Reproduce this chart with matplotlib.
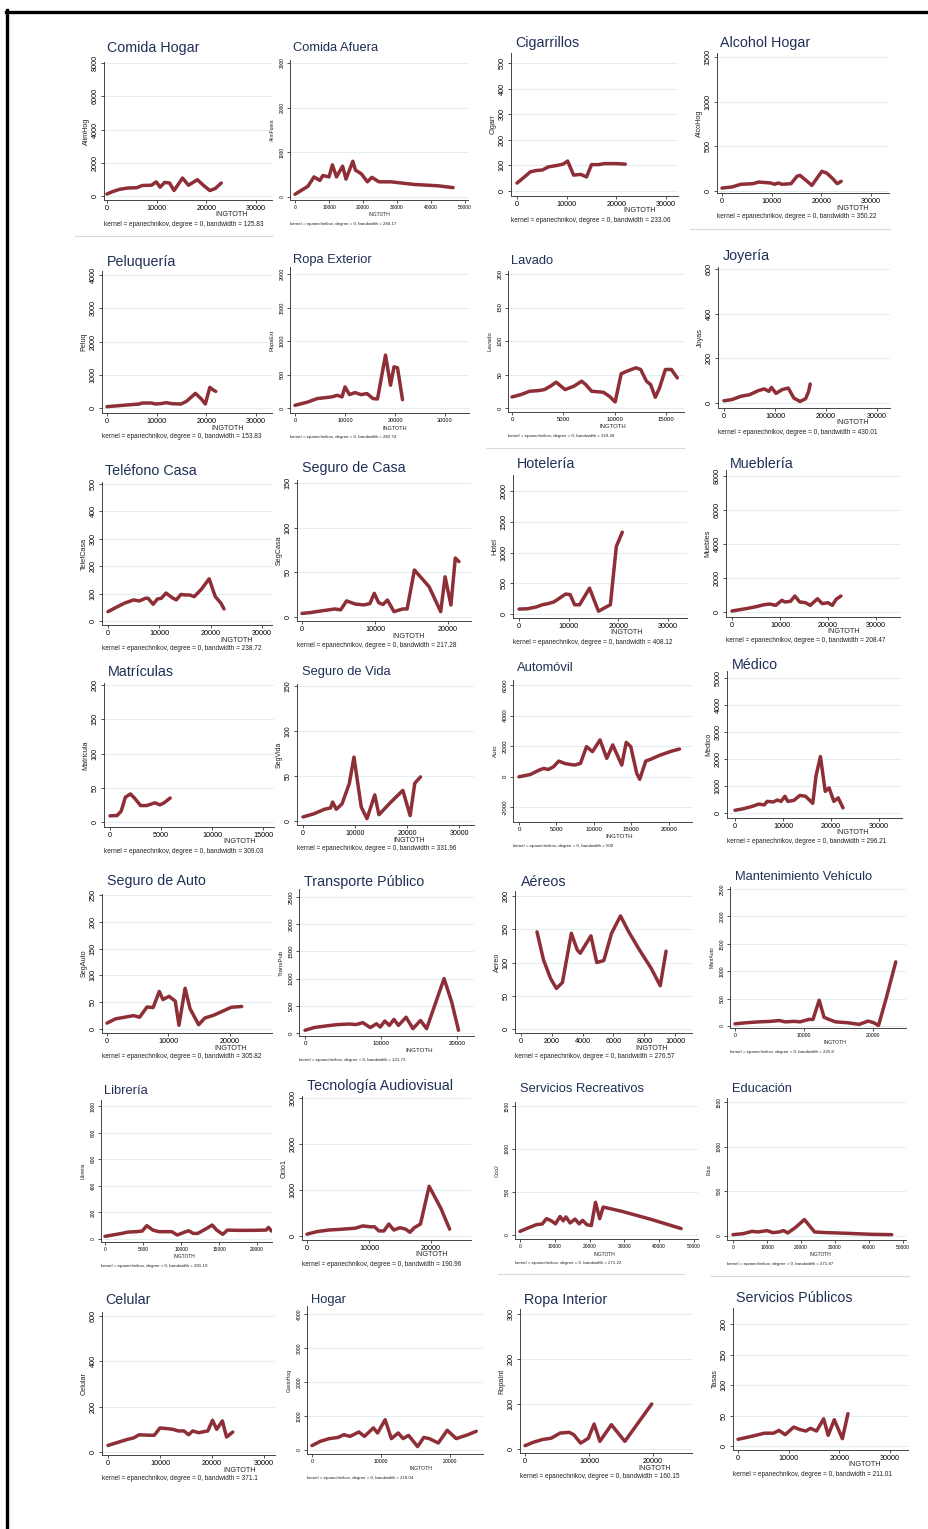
import matplotlib
matplotlib.use("Agg")
import matplotlib.pyplot as plt
from matplotlib.lines import Line2D

# ---- kernel regression curves (gasto vs INGTOTH) ----
alim_hog_x = [0, 1000, 2500, 4200, 6000, 7100, 9000, 9900, 10700, 11600, 12600, 13500, 15200, 16400, 18200, 19500, 20700, 21800, 23000]
alim_hog_y = [120, 250, 400, 480, 500, 630, 650, 850, 530, 820, 780, 330, 1080, 650, 980, 620, 330, 450, 780]

alim_fuera_x = [0, 3800, 5600, 7300, 8200, 10000, 11000, 12200, 14000, 15000, 17000, 17800, 19500, 21300, 22600, 24700, 28200, 35200, 42200, 46500]
alim_fuera_y = [60, 240, 450, 370, 480, 450, 720, 450, 690, 400, 800, 600, 520, 340, 440, 340, 340, 280, 250, 210]

cigarr_x = [0, 1500, 2700, 3900, 5100, 6300, 8100, 9300, 10200, 11400, 12800, 14000, 15000, 16400, 17600, 20000, 21800]
cigarr_y = [31, 55, 75, 80, 82, 94, 100, 105, 117, 62, 65, 55, 103, 103, 107, 107, 105]

alco_hog_x = [0, 2000, 3800, 6200, 7400, 9800, 10600, 11300, 12100, 13900, 15100, 15700, 16900, 18100, 20100, 21100, 22300, 23200, 24000]
alco_hog_y = [33, 45, 75, 82, 100, 90, 75, 90, 75, 82, 165, 175, 120, 63, 220, 200, 138, 82, 108]

peluq_x = [0, 2400, 4800, 6500, 7100, 8900, 9800, 10700, 11900, 13100, 14900, 16000, 17800, 19000, 19800, 20700, 21400, 21900]
peluq_y = [40, 70, 100, 120, 150, 150, 120, 130, 160, 130, 120, 200, 440, 270, 120, 620, 540, 500]

ropa_ext_x = [0, 2600, 4400, 7300, 8500, 9400, 10000, 10900, 12000, 13200, 14400, 15600, 16500, 18100, 19100, 19800, 20500, 21500]
ropa_ext_y = [40, 90, 140, 165, 190, 165, 315, 200, 230, 200, 215, 140, 135, 790, 340, 615, 600, 125]

lavado_x = [0, 860, 1720, 2600, 3160, 3740, 4300, 5170, 6030, 6780, 7180, 7760, 8900, 9480, 10050, 10630, 11200, 12070, 12530, 13100, 13500, 13960, 14370, 14940, 15520, 16100]
lavado_y = [16.5, 20, 25, 26, 27.5, 32.5, 38.5, 27.5, 32.5, 40, 35, 25, 23.5, 17.5, 9, 51, 55, 60, 57.5, 40, 35, 16, 30, 57.5, 57.5, 45]

joyas_x = [0, 1500, 3300, 5000, 6700, 7900, 8800, 9300, 10200, 11400, 12600, 13700, 14900, 16000, 16600, 16900]
joyas_y = [10, 15, 30, 37, 55, 63, 52, 70, 43, 60, 67, 22, 7, 19, 52, 85]

telef_x = [0, 1500, 3200, 5000, 6100, 7300, 7800, 8800, 9600, 10400, 11300, 12500, 13300, 14200, 15000, 15900, 16800, 18200, 19700, 20900, 22000, 22600]
telef_y = [34, 49, 65, 77, 73, 83, 83, 61, 80, 83, 102, 85, 77, 97, 95, 95, 89, 116, 154, 89, 65, 44]

seg_casa_x = [0, 1200, 2800, 4500, 5300, 6100, 7300, 8500, 9300, 9900, 10500, 11100, 11700, 12600, 13800, 14400, 15400, 17400, 19000, 19600, 20400, 21000, 21500]
seg_casa_y = [4, 5, 7, 9, 8, 18, 14.5, 13.5, 15, 26.5, 16, 14, 19, 6, 9, 9, 52.6, 34, 6, 45, 13.4, 66, 62]

hotel_x = [0, 1700, 3500, 4700, 5900, 7000, 8200, 9400, 10300, 11200, 12200, 14200, 16000, 17800, 18400, 19600, 20800]
hotel_y = [80, 85, 115, 150, 170, 195, 260, 325, 315, 150, 150, 420, 45, 125, 150, 1100, 1330]

muebles_x = [0, 1700, 3000, 4800, 6700, 7900, 9100, 10400, 11000, 12200, 13100, 14100, 15300, 16300, 17800, 18800, 20000, 20900, 21700, 22700]
muebles_y = [60, 140, 200, 300, 430, 470, 390, 690, 590, 630, 940, 590, 550, 390, 780, 490, 550, 390, 750, 940]

matric_x = [0, 700, 1100, 1500, 2000, 2400, 3000, 3600, 4400, 4900, 5300, 5900]
matric_y = [9, 9.5, 16, 36, 41, 35, 24, 24, 28, 25, 28, 35]

seg_vida_x = [0, 2100, 4100, 5300, 5700, 6400, 7500, 8900, 9800, 11200, 12300, 13800, 14600, 16900, 19200, 20600, 21500, 22600]
seg_vida_y = [4.5, 8, 13, 14.5, 21, 13, 19, 41.5, 71, 15.5, 2.6, 29, 7, 21, 34, 6, 42, 49]

auto_x = [0, 1500, 2700, 3300, 3900, 4600, 5300, 6200, 7400, 8200, 9000, 9800, 10800, 11700, 12500, 13700, 14300, 14900, 15700, 16100, 16900, 17600, 18800, 20400, 21400]
auto_y = [-20, 130, 420, 530, 460, 640, 1010, 840, 750, 860, 1960, 1630, 2400, 1190, 2070, 750, 2240, 1960, 200, -180, 1010, 1140, 1400, 1670, 1800]

medico_x = [0, 1800, 3700, 4900, 6100, 6700, 8000, 8800, 9600, 10400, 11000, 12300, 13500, 14700, 16200, 16900, 17800, 18800, 19600, 20600, 21500, 22500]
medico_y = [100, 160, 250, 330, 300, 430, 410, 480, 430, 620, 430, 470, 650, 620, 360, 1400, 2090, 800, 930, 430, 560, 190]

seg_auto_x = [0, 1400, 2900, 4300, 5300, 6500, 7500, 8500, 9100, 10100, 11100, 11700, 12700, 13500, 14900, 15900, 17300, 20200, 21900]
seg_auto_y = [11, 19, 22, 25, 22, 41, 40, 70, 55, 61, 52, 7, 76, 38, 8, 20.5, 25.5, 40.5, 42]

trans_pub_x = [0, 1200, 2800, 4300, 5900, 6700, 7600, 8600, 9400, 9900, 10500, 11100, 11700, 12300, 13300, 14200, 15200, 16000, 18300, 19300, 20200]
trans_pub_y = [50, 100, 130, 155, 165, 155, 190, 100, 170, 110, 220, 140, 250, 140, 290, 80, 230, 80, 1000, 570, 50]

aereo_x = [1040, 1460, 1920, 2300, 2690, 3270, 3650, 3850, 4540, 4920, 5380, 5880, 6460, 7000, 7690, 8460, 9040, 9420]
aereo_y = [146, 104, 76, 61, 70, 144, 119, 114, 140, 100, 103, 144, 170, 146, 119, 91, 65, 117]

mant_auto_x = [0, 1700, 3400, 5200, 6400, 7300, 8600, 9400, 10700, 11300, 12200, 12900, 13600, 14600, 16300, 18000, 19300, 20100, 20800, 21900, 23300]
mant_auto_y = [40, 60, 75, 85, 100, 75, 85, 75, 120, 120, 470, 160, 120, 75, 60, 30, 90, 60, 10, 500, 1170]

libreria_x = [0, 1000, 2200, 3000, 4100, 4900, 5500, 6300, 7100, 8800, 9500, 10400, 11000, 11600, 12200, 13400, 14100, 14700, 15500, 16100, 17400, 19400, 21200, 21500, 21900]
libreria_y = [20, 30, 42, 52, 55, 60, 100, 67, 55, 55, 30, 50, 62, 42, 42, 80, 105, 67, 35, 67, 65, 65, 67, 87, 60]

ocio1_x = [0, 1600, 3500, 5400, 7800, 9000, 10200, 10900, 11600, 12400, 13200, 14000, 15000, 15900, 16600, 17300, 18300, 19700, 21600, 23000]
ocio1_y = [40, 95, 130, 145, 170, 220, 200, 200, 110, 110, 260, 130, 180, 150, 80, 180, 260, 1080, 600, 150]

ocio2_x = [0, 2200, 4700, 6400, 7600, 9000, 10200, 11500, 12400, 13200, 14400, 15800, 17000, 18000, 19200, 20500, 21700, 22900, 23900, 29300, 37800, 46300]
ocio2_y = [42, 80, 120, 128, 190, 165, 130, 215, 165, 210, 140, 185, 130, 170, 120, 110, 380, 190, 325, 275, 180, 75]

educ_x = [0, 3000, 5600, 7300, 10000, 11700, 13500, 14900, 16100, 18200, 21000, 24000, 27400, 33600, 40600, 46700]
educ_y = [15, 26, 52, 45, 60, 38, 45, 60, 34, 90, 184, 45, 38, 30, 19, 15]

celular_x = [0, 2100, 3800, 4900, 6000, 7800, 8900, 10000, 11400, 12500, 13500, 14600, 15500, 16300, 17400, 19200, 20100, 20900, 22000, 22800, 24000]
celular_y = [29, 44, 56, 62, 76, 74, 74, 106, 103, 100, 93, 93, 76, 93, 85, 93, 140, 100, 137, 66, 88]

gasto_hog_x = [0, 1200, 2500, 3800, 4600, 5500, 6800, 7600, 8900, 9500, 10600, 11500, 12500, 13200, 14000, 15300, 16200, 17000, 18300, 19600, 20900, 22600, 23800]
gasto_hog_y = [130, 255, 335, 370, 450, 400, 530, 400, 650, 500, 890, 335, 500, 335, 430, 100, 370, 335, 205, 580, 335, 450, 550]

ropa_int_x = [0, 1300, 2700, 4100, 5500, 6900, 7600, 8700, 9900, 10800, 11700, 13500, 15600, 19800]
ropa_int_y = [7.4, 15, 21, 24, 35.5, 37, 32, 13, 24, 55.5, 17, 54, 17, 100]

tasas_x = [0, 1700, 3500, 5200, 7000, 8100, 9300, 11000, 12200, 13400, 14300, 15500, 16900, 17800, 19000, 20600, 21700]
tasas_y = [11, 14, 17.5, 21, 21, 25.5, 18.5, 31, 27, 24.5, 29, 24.5, 44.5, 17.5, 43, 12, 53]

series = [
    (alim_hog_x, alim_hog_y), (alim_fuera_x, alim_fuera_y), (cigarr_x, cigarr_y), (alco_hog_x, alco_hog_y),
    (peluq_x, peluq_y), (ropa_ext_x, ropa_ext_y), (lavado_x, lavado_y), (joyas_x, joyas_y),
    (telef_x, telef_y), (seg_casa_x, seg_casa_y), (hotel_x, hotel_y), (muebles_x, muebles_y),
    (matric_x, matric_y), (seg_vida_x, seg_vida_y), (auto_x, auto_y), (medico_x, medico_y),
    (seg_auto_x, seg_auto_y), (trans_pub_x, trans_pub_y), (aereo_x, aereo_y), (mant_auto_x, mant_auto_y),
    (libreria_x, libreria_y), (ocio1_x, ocio1_y), (ocio2_x, ocio2_y), (educ_x, educ_y),
    (celular_x, celular_y), (gasto_hog_x, gasto_hog_y), (ropa_int_x, ropa_int_y), (tasas_x, tasas_y),
]

titles = ["Comida Hogar", "Comida Afuera", "Cigarrillos", "Alcohol Hogar",
          "Peluquería", "Ropa Exterior", "Lavado", "Joyería",
          "Teléfono Casa", "Seguro de Casa", "Hotelería", "Mueblería",
          "Matrículas", "Seguro de Vida", "Automóvil", "Médico",
          "Seguro de Auto", "Transporte Público", "Aéreos", "Mantenimiento Vehículo",
          "Librería", "Tecnología Audiovisual", "Servicios Recreativos", "Educación",
          "Celular", "Hogar", "Ropa Interior", "Servicios Públicos"]

ylabels = ["AlimHog", "AlimFuera", "Cigarr", "AlcoHog",
           "Peluq", "RopaExt", "Lavado", "Joyas",
           "TelefCasa", "SegCasa", "Hotel", "Muebles",
           "Matricula", "SegVida", "Auto", "Medico",
           "SegAuto", "TransPub", "Aereo", "MantAuto",
           "Libreria", "Ocio1", "Ocio2", "Educ",
           "Celular", "GastoHog", "RopaInt", "Tasas"]

bandwidths = ["125.83", "284.17", "233.06", "350.22",
              "153.83", "282.74", "329.28", "430.01",
              "238.72", "217.28", "408.12", "208.47",
              "309.03", "331.96", "500", "296.21",
              "305.82", "121.73", "276.57", "225.8",
              "281.19", "190.96", "271.22", "371.87",
              "371.1", "218.04", "160.15", "211.01"]

X30 = [0, 10000, 20000, 30000]
X20 = [0, 10000, 20000]
X50 = [0, 10000, 20000, 30000, 40000, 50000]
xticks = [X30, X50, X30, X30,
          X30, X30, [0, 5000, 10000, 15000], X30,
          X30, X20, X30, X30,
          [0, 5000, 10000, 15000], X30, [0, 5000, 10000, 15000, 20000], X30,
          X20, X20, [0, 2000, 4000, 6000, 8000, 10000], X20,
          [0, 5000, 10000, 15000, 20000], X20, X50, X50,
          X30, X20, X20, X30]
yticks = [[0, 2000, 4000, 6000, 8000], [0, 1000, 2000, 3000], [0, 100, 200, 300, 400, 500], [0, 500, 1000, 1500],
          [0, 1000, 2000, 3000, 4000], [0, 500, 1000, 1500, 2000], [0, 50, 100, 150, 200], [0, 200, 400, 600],
          [0, 100, 200, 300, 400, 500], [0, 50, 100, 150], [0, 500, 1000, 1500, 2000], [0, 2000, 4000, 6000, 8000],
          [0, 50, 100, 150, 200], [0, 50, 100, 150], [-2000, 0, 2000, 4000, 6000], [0, 1000, 2000, 3000, 4000, 5000],
          [0, 50, 100, 150, 200, 250], [0, 500, 1000, 1500, 2000, 2500], [0, 50, 100, 150, 200], [0, 500, 1000, 1500, 2000, 2500],
          [0, 200, 400, 600, 800, 1000], [0, 1000, 2000, 3000], [0, 500, 1000, 1500], [0, 500, 1000, 1500],
          [0, 200, 400, 600], [0, 1000, 2000, 3000, 4000], [0, 100, 200, 300], [0, 50, 100, 150, 200]]

# ---- layout in pixels: plot box (l, t, r, b), pixel of first/last x tick,
# pixel of first/last y tick, title anchor, INGTOTH x, narrow title,
# tick font size, small note
W, H = 929, 1529
layout = [
    ((104, 62, 272, 200), (107, 256), (196, 63), (107, 48), 232, False, 5.2, False),
    ((290, 60, 468, 200), (295, 465), (197, 63), (293, 48), 379, True, 3.5, True),
    ((511, 53, 678, 196), (517, 666), (191, 63), (515, 43), 640, False, 5.2, False),
    ((717, 53, 889, 193), (722, 871), (191, 57), (720, 43), 853, False, 5.2, False),
    ((102, 271, 272, 413), (107, 256), (408, 275), (107, 262), 228, False, 5.2, False),
    ((290, 267, 469, 413), (295, 445), (408, 274), (293, 260), 395, True, 4.0, True),
    ((508, 271, 684, 412), (512, 666), (408, 274), (511, 261), 613, True, 4.3, True),
    ((718, 267, 890, 408), (724, 877), (403, 269), (723, 256), 853, False, 5.2, False),
    ((102, 482, 272, 625), (108, 262), (621, 484), (105, 471), 237, False, 5.2, False),
    ((297, 480, 471, 621), (302, 448), (617, 483), (302, 468), 409, False, 5.2, False),
    ((513, 475, 687, 618), (519, 668), (614, 491), (517, 464), 627, False, 5.2, False),
    ((726, 470, 900, 617), (732, 876), (612, 476), (730, 464), 844, False, 5.2, False),
    ((104, 683, 274, 827), (110, 263), (822, 685), (108, 672), 240, False, 5.2, False),
    ((297, 684, 474, 825), (303, 459), (821, 686), (302, 672), 409, True, 5.0, False),
    ((513, 680, 692, 822), (519, 669), (807, 685), (517, 668), 619, True, 4.4, True),
    ((727, 671, 902, 818), (735, 879), (813, 678), (732, 665), 853, False, 5.2, False),
    ((102, 894, 272, 1033), (107, 230), (1029, 895), (107, 881), 231, False, 5.2, False),
    ((299, 889, 474, 1036), (305, 457), (1033, 897), (304, 882), 419, False, 4.4, True),
    ((515, 891, 692, 1033), (521, 675), (1029, 896), (521, 882), 652, False, 5.2, False),
    ((730, 887, 906, 1028), (735, 873), (1026, 889), (735, 877), 835, True, 3.7, True),
    ((101, 1100, 272, 1242), (105, 257), (1239, 1106), (104, 1091), 184, True, 3.5, True),
    ((302, 1096, 471, 1240), (307, 431), (1236, 1098), (307, 1086), 432, False, 5.2, False),
    ((515, 1102, 698, 1239), (520, 694), (1235, 1106), (520, 1089), 604, True, 3.5, True),
    ((727, 1098, 906, 1240), (733, 903), (1236, 1102), (732, 1089), 820, True, 3.5, True),
    ((102, 1312, 275, 1455), (108, 264), (1452, 1316), (105, 1300), 240, False, 5.2, False),
    ((307, 1306, 483, 1454), (312, 450), (1450, 1314), (311, 1300), 421, True, 3.7, True),
    ((520, 1309, 692, 1453), (525, 653), (1449, 1314), (524, 1300), 655, False, 5.2, False),
    ((733, 1308, 908, 1450), (738, 890), (1446, 1324), (736, 1298), 865, False, 5.2, False),
]

LINE = "#8E2E37"
TITLE = "#1F2F55"
GRID = "#E4EEF0"
REG = ["Liberation Sans", "DejaVu Sans"]


def fx(x):
    return x / W


def fy(y):
    return 1 - y / H


fig = plt.figure(figsize=(W / 100, H / 100), dpi=100)
fig.patch.set_facecolor("white")

for i, (xs, ys) in enumerate(series):
    (l, t, r, b), (xa, xb), (ya, yb), (tx, ty), lab_x, narrow, tfs, small = layout[i]
    xt, yt = xticks[i], yticks[i]

    ax = fig.add_axes([fx(l), fy(b), (r - l) / W, (b - t) / H])
    # axis limits so the ticks fall on their pixel positions
    sx = (xt[-1] - xt[0]) / (xb - xa)
    ax.set_xlim(xt[0] - (xa - l) * sx, xt[0] + (r - xa) * sx)
    sy = (yt[-1] - yt[0]) / (ya - yb)
    ax.set_ylim(yt[0] - (b - ya) * sy, yt[0] + (ya - t) * sy)

    for v in yt:
        ax.axhline(v, color=GRID, lw=0.8, zorder=0)
    ax.plot(xs, ys, color=LINE, lw=2.5, solid_joinstyle="round", solid_capstyle="round", zorder=3)

    ax.set_xticks(xt)
    ax.set_xticklabels([str(v) for v in xt], fontsize=tfs, family=REG)
    ax.set_yticks(yt)
    ax.set_yticklabels([str(v) for v in yt], fontsize=tfs, family=REG, rotation=90, va="center")
    ax.tick_params(axis="both", length=2.2, width=0.6, pad=1.5, colors="#333333", labelcolor="black")
    for side in ("top", "right"):
        ax.spines[side].set_visible(False)
    for side in ("left", "bottom"):
        ax.spines[side].set_color("#444444")
        ax.spines[side].set_linewidth(0.7)
    ax.set_facecolor("white")

    fig.text(fx(tx), fy(ty), titles[i], fontsize=9.3 if narrow else 10.3,
             family=REG, color=TITLE, ha="left", va="center")
    fig.text(fx(l - 18), fy((t + b) / 2), ylabels[i], fontsize=tfs, family=REG,
             rotation=90, ha="center", va="center", color="#222222")
    fig.text(fx(lab_x), fy(b + 15), "INGTOTH", fontsize=tfs, family=REG,
             ha="center", va="center", color="#222222")
    fig.text(fx(l), fy(b + 24), "kernel = epanechnikov, degree = 0, bandwidth = " + bandwidths[i],
             fontsize=3.2 if small else 4.7, family=REG, ha="left", va="center", color="#222222")

# thin separators between graph blocks
for (x0, x1, y) in [(75, 272, 236), (690, 890, 229), (486, 684, 448), (498, 684, 1274), (711, 909, 1276)]:
    fig.add_artist(Line2D([fx(x0), fx(x1)], [fy(y), fy(y)], color="#DADADA", lw=0.8))

# outer black frame (top and left)
fig.add_artist(Line2D([fx(6), fx(929)], [fy(11.5), fy(11.5)], color="black", lw=2.4))
fig.add_artist(Line2D([fx(7.5), fx(7.5)], [fy(10), fy(1529)], color="black", lw=2.4))

fig.savefig("out.png", dpi=100, facecolor="white")
